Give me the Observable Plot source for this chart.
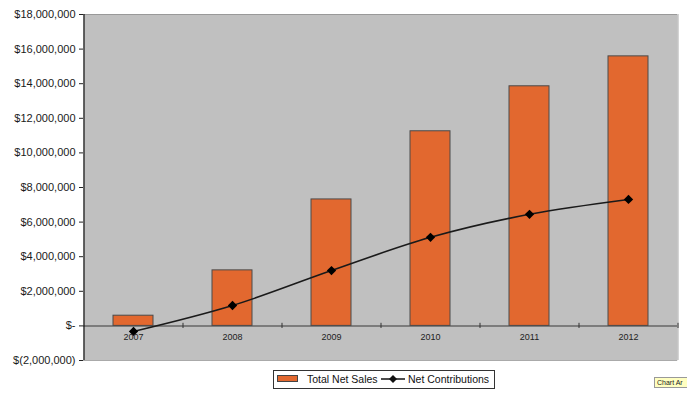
<!DOCTYPE html>
<html>
<head>
<meta charset="utf-8">
<script src="https://cdn.jsdelivr.net/npm/d3@7"></script>
<script src="https://cdn.jsdelivr.net/npm/@observablehq/plot@0.6"></script>
<style>
  body { margin: 0; background: #fff; font-family: "Liberation Sans", Arial, sans-serif; }
  #wrap { position: relative; width: 687px; height: 393px; }
  #chart { position: absolute; left: 0; top: 0; }
  #legend { position: absolute; left: 273px; top: 370px; width: 220px; height: 17px; border: 1px solid #333; background: #fff; font-size: 10.5px; color: #111; }
  #legend .sw { position: absolute; left: 3px; top: 4px; width: 19px; height: 5px; background: #E2682F; border: 1px solid #444; }
  #legend .t1 { position: absolute; left: 33px; top: 2px; white-space: nowrap; }
  #legend svg { position: absolute; left: 107px; top: 2px; }
  #legend .t2 { position: absolute; left: 134px; top: 2px; white-space: nowrap; }
  #tip { position: absolute; left: 654px; top: 377px; width: 40px; height: 9px; background: #ffffc0; border: 1px solid #999; font-size: 7px; line-height: 9px; padding-left: 2px; color: #222; }
</style>
</head>
<body>
<div id="wrap">
  <div id="chart"></div>
  <div id="legend">
    <div class="sw"></div><span class="t1">Total Net Sales</span>
    <svg width="26" height="12"><line x1="0" y1="6" x2="24" y2="6" stroke="#111" stroke-width="1.5"/><path d="M12 2 L16 6 L12 10 L8 6 Z" fill="#111"/></svg>
    <span class="t2">Net Contributions</span>
  </div>
  <div id="tip">Chart Ar</div>
</div>
<script>
const years = ["2007", "2008", "2009", "2010", "2011", "2012"];
const totalNetSales = [590000, 3210000, 7310000, 11250000, 13850000, 15580000];
const netContributions = [-320000, 1180000, 3200000, 5120000, 6450000, 7310000];
const yTicks = [-2000000, 0, 2000000, 4000000, 6000000, 8000000, 10000000, 12000000, 14000000, 16000000, 18000000];

const data = years.map((y, i) => ({year: y, sales: totalNetSales[i], contrib: netContributions[i]}));

function fmt(v) {
  if (v === 0) return "$-";
  if (v < 0) return "$(" + d3.format(",")(-v) + ")";
  return "$" + d3.format(",")(v);
}

const chart = Plot.plot({
  width: 687,
  height: 368,
  marginTop: 14,
  marginLeft: 83,
  marginRight: 10,
  marginBottom: 8,
  style: {fontFamily: "Liberation Sans, Arial, sans-serif", background: "transparent"},
  x: {domain: years, paddingInner: 0.6, paddingOuter: 0.3, axis: null},
  y: {domain: [-2000000, 18000000], axis: null},
  marks: [
    Plot.frame({fill: "#c0c0c0", stroke: null}),
    Plot.ruleY([18000000], {stroke: "#999", strokeWidth: 1}),
    Plot.ruleY([-2000000], {stroke: "#aaa", strokeWidth: 1}),
    Plot.ruleX([years[years.length - 1]], {stroke: "#aaa", dx: 49.5}),
    Plot.ruleY([0], {stroke: "#666", strokeWidth: 1.5}),
    Plot.barY(data, {x: "year", y: "sales", fill: "#E2682F", stroke: "#4a4a4a", strokeWidth: 1}),
    Plot.ruleX(years, {x: d => d, y1: -150000, y2: 150000, dx: 49.5, stroke: "#333"}),
    Plot.line(data, {x: "year", y: "contrib", stroke: "#1a1a1a", strokeWidth: 1.6, curve: "catmull-rom"}),
    Plot.dot(data, {x: "year", y: "contrib", symbol: "diamond2", r: 4.2, fill: "#000", stroke: null}),
    Plot.text(data, {x: "year", y: 0, text: "year", dy: 11, fontSize: 9, fill: "#222"}),
    Plot.axisY(yTicks, {tickFormat: fmt, tickSize: 4, tickPadding: 4, fontSize: 11, fill: "#1a1a1a", stroke: "#222"}),
    Plot.ruleX([years[0]], {stroke: "#111", dx: -49.5, strokeWidth: 1.2})
  ]
});
document.getElementById("chart").appendChild(chart);
</script>
</body>
</html>
